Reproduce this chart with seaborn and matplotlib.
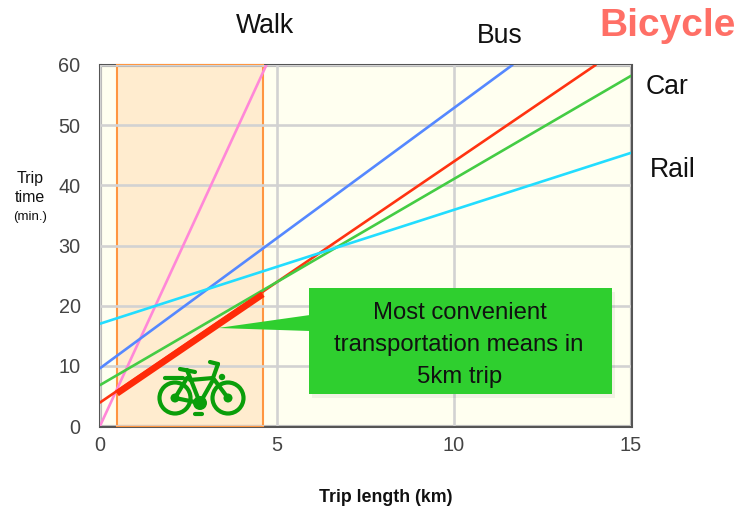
import matplotlib
matplotlib.use("Agg")
import matplotlib.pyplot as plt
import seaborn as sns
import pandas as pd
from matplotlib.patches import Circle, Rectangle, Polygon
from matplotlib.lines import Line2D
from matplotlib.transforms import Affine2D

modes = ["Walk", "Bus", "Bicycle", "Car", "Rail"]
x_start = [0, 0, 0, 0, 0]
y_start = [0, 9.6, 3.9, 6.8, 17.0]
x_end = [4.7, 11.65, 14.0, 15.0, 15.0]
y_end = [60, 60, 60, 58.2, 45.4]
colors = ["#ff88d8", "#5588ff", "#ff3311", "#44cc44", "#22ddff"]
band = [0.48, 4.6]
thick_x = [0.48, 4.6]
thick_y = [5.4, 21.9]
xticks = [0, 5, 10, 15]
yticks = [0, 10, 20, 30, 40, 50, 60]

W, H = 742, 508
sns.set_theme(style="white")
plt.rcParams["font.family"] = ["Liberation Sans", "DejaVu Sans"]

fig = plt.figure(figsize=(W / 100, H / 100), dpi=100, facecolor="white")
ax = fig.add_axes([100 / W, 1 - 426 / H, 531 / W, 361 / H])
ax.set_facecolor("#fffff0")

rows = []
for m, x0, y0, x1, y1 in zip(modes, x_start, y_start, x_end, y_end):
    rows += [dict(mode=m, x=x0, y=y0), dict(mode=m, x=x1, y=y1)]
df = pd.DataFrame(rows)

ax.axvspan(band[0], band[1], facecolor="#ffeccf", edgecolor="none", zorder=1)
ax.grid(True, color="#d2d2d2", linewidth=1.9, zorder=1.5)
ax.set_axisbelow(False)
for line in ax.get_xgridlines() + ax.get_ygridlines():
    line.set_zorder(1.5)
sns.lineplot(data=df, x="x", y="y", hue="mode", hue_order=modes, palette=colors,
             linewidth=1.9, legend=False, ax=ax, zorder=3, estimator=None, sort=False)
sns.lineplot(x=thick_x, y=thick_y, color="#ff2a08", linewidth=4.6, ax=ax, zorder=4,
             estimator=None, sort=False, legend=False, solid_capstyle="butt")
ax.set_xlim(0, 15)
ax.set_ylim(0, 60)
ax.set_xticks(xticks)
ax.set_yticks(yticks)
ax.set_xlabel("")
ax.set_ylabel("")
ax.tick_params(axis="both", length=0, labelsize=14.3, labelcolor="#444444")
ax.tick_params(axis="x", pad=7)
ax.tick_params(axis="y", pad=14)
for s in ax.spines.values():
    s.set_color("#555555")
    s.set_linewidth(2.2)
    s.set_zorder(2)

# overlays positioned in image pixels
px = Affine2D().scale(1 / W, -1 / H).translate(0, 1) + fig.transFigure


def label(x, y, s, size, **kw):
    fig.text(x / W, 1 - y / H, s, fontsize=size, ha=kw.pop("ha", "center"), va="center", **kw)


def add(p):
    p.set_transform(px)
    p.set_clip_on(False)
    fig.add_artist(p)


# outline of the highlighted band, sits over the axes frame
band_outline = Rectangle((band[0], 0), band[1] - band[0], 60, facecolor="none",
                         edgecolor="#ff9640", linewidth=1.5, zorder=2.5, clip_on=False)
ax.add_patch(band_outline)

label(265, 26, "Walk", 19.2, color="#111111")
label(500, 36, "Bus", 19.2, color="#111111")
label(668, 26, "Bicycle", 28, color="#ff6f66", fontweight="bold")
label(667, 87, "Car", 19.2, color="#111111")
label(673, 170, "Rail", 19.2, color="#111111")
label(30, 178, "Trip", 11.5, color="#111111")
label(30, 197, "time", 11.5, color="#111111")
label(30, 217, "(min.)", 9.5, color="#111111")
label(386, 497, "Trip length (km)", 12.8, color="#111111", fontweight="bold")

green = "#2fcf2f"
add(Rectangle((312, 292), 303, 106, facecolor="#000000", alpha=0.05, edgecolor="none"))
add(Polygon([(218, 328), (310, 315), (310, 331)], closed=True, facecolor=green, edgecolor="none"))
add(Rectangle((309, 288), 303, 106, facecolor=green, edgecolor="none"))
label(460, 313, "Most convenient", 17.2, color="#111111")
label(459, 345, "transportation means in", 17.2, color="#111111")
label(460, 377, "5km trip", 17.2, color="#111111")

# bicycle icon
bike = "#0a9e0a"
for c in [(175, 398), (228, 398)]:
    add(Circle(c, 15.5, facecolor="none", edgecolor=bike, linewidth=3))
    add(Circle(c, 4.5, facecolor=bike, edgecolor="none"))
add(Circle((200, 403), 7, facecolor=bike, edgecolor="none"))
add(Circle((222, 377), 3.2, facecolor=bike, edgecolor="none"))
segments = [
    [(180, 369), (195, 372)], [(187, 370), (200, 403)], [(210, 362), (218, 364)],
    [(218, 364), (213, 378), (228, 398)], [(190, 380), (213, 378)], [(200, 403), (213, 380)],
    [(175, 398), (200, 403)], [(175, 398), (187, 378)], [(165, 378), (183, 378)],
    [(195, 414), (202, 414)],
]
for seg in segments:
    xs, ys = zip(*seg)
    add(Line2D(xs, ys, color=bike, linewidth=3, solid_capstyle="round"))

fig.savefig("out.png", dpi=100)
